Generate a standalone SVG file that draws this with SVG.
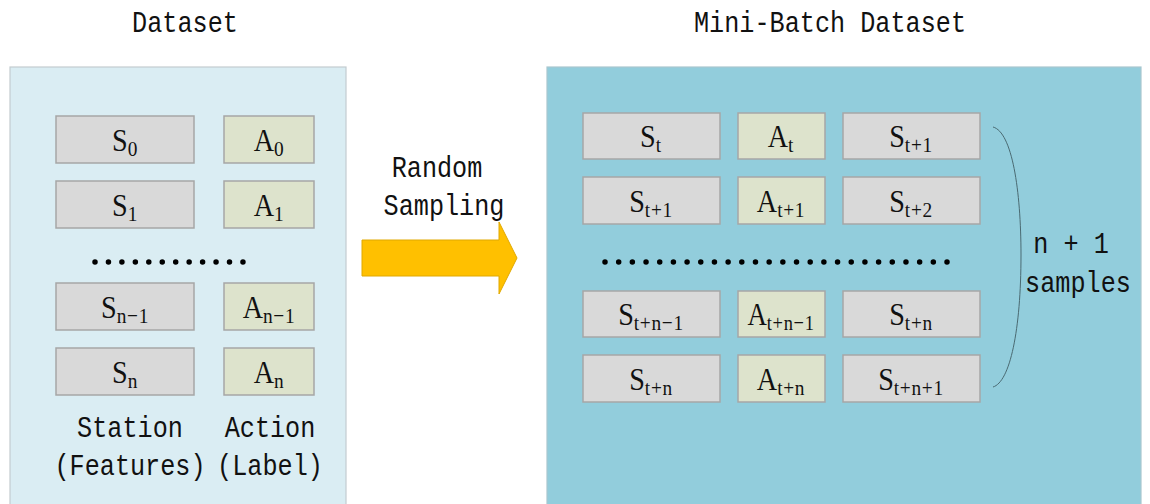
<svg xmlns="http://www.w3.org/2000/svg" width="1150" height="504" viewBox="0 0 1150 504">
  <defs>
    <style>
      .bg { fill: #ffffff; }
      .panel-l { fill: #daedf3; stroke: #c3ccd0; stroke-width: 1.2; }
      .panel-r { fill: #92cddc; stroke: #a9c7cf; stroke-width: 1.2; }
      .sbox { fill: #d9d9d9; stroke: #a6a6a6; stroke-width: 1.5; }
      .abox { fill: #dde3cc; stroke: #a6a6a6; stroke-width: 1.5; }
      .mono { font-family: "Liberation Mono", "DejaVu Sans Mono", monospace; font-size: 30px; fill: #111111; text-anchor: middle; }
      .lbl { font-family: "Liberation Serif", "DejaVu Serif", serif; font-size: 32px; fill: #111111; text-anchor: middle; }
      .sub { font-size: 22px; letter-spacing: 0.8px; }
      .dots { stroke: #000000; stroke-width: 5.5; stroke-linecap: round; }
      .arrow { fill: #ffc000; stroke: #e0a800; stroke-width: 1; }
      .brace { fill: none; stroke: #4a6a72; stroke-width: 1; }
    </style>
  </defs>

  <rect class="bg" x="0" y="0" width="1150" height="504"/>

  <!-- Source dataset -->
  <g id="dataset">
    <text class="mono" transform="translate(185,32) scale(0.84,1)">Dataset</text>
    <rect class="panel-l" x="10" y="67" width="336" height="445"/>

    <g id="s0"><rect class="sbox" x="56" y="116" width="138" height="47"/>
      <text class="lbl" transform="translate(125,151) scale(0.88,1)">S<tspan class="sub" dy="5">0</tspan></text></g>
    <g id="a0"><rect class="abox" x="224" y="116" width="90" height="47"/>
      <text class="lbl" transform="translate(269,151) scale(0.88,1)">A<tspan class="sub" dy="5">0</tspan></text></g>

    <g id="s1"><rect class="sbox" x="56" y="181" width="138" height="47"/>
      <text class="lbl" transform="translate(125,216) scale(0.88,1)">S<tspan class="sub" dy="5">1</tspan></text></g>
    <g id="a1"><rect class="abox" x="224" y="181" width="90" height="47"/>
      <text class="lbl" transform="translate(269,216) scale(0.88,1)">A<tspan class="sub" dy="5">1</tspan></text></g>

    <line class="dots" x1="95" y1="262" x2="243" y2="262" stroke-dasharray="0 13.45"/>

    <g id="sn-1"><rect class="sbox" x="56" y="283" width="138" height="47"/>
      <text class="lbl" transform="translate(125,318) scale(0.88,1)">S<tspan class="sub" dy="5">n−1</tspan></text></g>
    <g id="an-1"><rect class="abox" x="224" y="283" width="90" height="47"/>
      <text class="lbl" transform="translate(269,318) scale(0.88,1)">A<tspan class="sub" dy="5">n−1</tspan></text></g>

    <g id="sn"><rect class="sbox" x="56" y="348" width="138" height="47"/>
      <text class="lbl" transform="translate(125,383) scale(0.88,1)">S<tspan class="sub" dy="5">n</tspan></text></g>
    <g id="an"><rect class="abox" x="224" y="348" width="90" height="47"/>
      <text class="lbl" transform="translate(269,383) scale(0.88,1)">A<tspan class="sub" dy="5">n</tspan></text></g>

    <text class="mono" transform="translate(130,437) scale(0.84,1)">Station</text>
    <text class="mono" transform="translate(130,475) scale(0.84,1)">(Features)</text>
    <text class="mono" transform="translate(270,437) scale(0.84,1)">Action</text>
    <text class="mono" transform="translate(270,475) scale(0.84,1)">(Label)</text>
  </g>

  <!-- Sampling step -->
  <g id="connectors">
    <text class="mono" transform="translate(437,177) scale(0.84,1)">Random</text>
    <text class="mono" transform="translate(444,215) scale(0.84,1)">Sampling</text>
    <path class="arrow" d="M362,240 L499,240 L499,222 L517,258 L499,294 L499,276 L362,276 Z"/>
  </g>

  <!-- Mini-batch dataset -->
  <g id="minibatch">
    <text class="mono" transform="translate(830,32) scale(0.84,1)">Mini-Batch Dataset</text>
    <rect class="panel-r" x="547" y="67" width="594" height="445"/>

    <g id="row-t">
      <rect class="sbox" x="583" y="113" width="137" height="46"/>
      <text class="lbl" transform="translate(651,147) scale(0.88,1)">S<tspan class="sub" dy="5">t</tspan></text>
      <rect class="abox" x="738" y="113" width="87" height="46"/>
      <text class="lbl" transform="translate(781,147) scale(0.88,1)">A<tspan class="sub" dy="5">t</tspan></text>
      <rect class="sbox" x="843" y="113" width="137" height="46"/>
      <text class="lbl" transform="translate(911,147) scale(0.88,1)">S<tspan class="sub" dy="5">t+1</tspan></text>
    </g>

    <g id="row-t1">
      <rect class="sbox" x="583" y="177" width="137" height="47"/>
      <text class="lbl" transform="translate(651,212) scale(0.88,1)">S<tspan class="sub" dy="5">t+1</tspan></text>
      <rect class="abox" x="738" y="177" width="87" height="47"/>
      <text class="lbl" transform="translate(781,212) scale(0.88,1)">A<tspan class="sub" dy="5">t+1</tspan></text>
      <rect class="sbox" x="843" y="177" width="137" height="47"/>
      <text class="lbl" transform="translate(911,212) scale(0.88,1)">S<tspan class="sub" dy="5">t+2</tspan></text>
    </g>

    <line class="dots" x1="605" y1="262" x2="947" y2="262" stroke-dasharray="0 13.68"/>

    <g id="row-tn-1">
      <rect class="sbox" x="583" y="291" width="137" height="46"/>
      <text class="lbl" transform="translate(651,325) scale(0.88,1)">S<tspan class="sub" dy="5">t+n−1</tspan></text>
      <rect class="abox" x="738" y="291" width="87" height="46"/>
      <text class="lbl" transform="translate(781,325) scale(0.84,1)">A<tspan class="sub" dy="5">t+n−1</tspan></text>
      <rect class="sbox" x="843" y="291" width="137" height="46"/>
      <text class="lbl" transform="translate(911,325) scale(0.88,1)">S<tspan class="sub" dy="5">t+n</tspan></text>
    </g>

    <g id="row-tn">
      <rect class="sbox" x="583" y="355" width="137" height="47"/>
      <text class="lbl" transform="translate(651,390) scale(0.88,1)">S<tspan class="sub" dy="5">t+n</tspan></text>
      <rect class="abox" x="738" y="355" width="87" height="47"/>
      <text class="lbl" transform="translate(781,390) scale(0.88,1)">A<tspan class="sub" dy="5">t+n</tspan></text>
      <rect class="sbox" x="843" y="355" width="137" height="47"/>
      <text class="lbl" transform="translate(911,390) scale(0.88,1)">S<tspan class="sub" dy="5">t+n+1</tspan></text>
    </g>

    <path class="brace" d="M993,127 C1012,132 1021,190 1021,255 C1021,330 1010,382 993,387"/>
    <text class="mono" transform="translate(1071,253) scale(0.84,1)">n + 1</text>
    <text class="mono" transform="translate(1078,292) scale(0.84,1)">samples</text>
  </g>
</svg>
